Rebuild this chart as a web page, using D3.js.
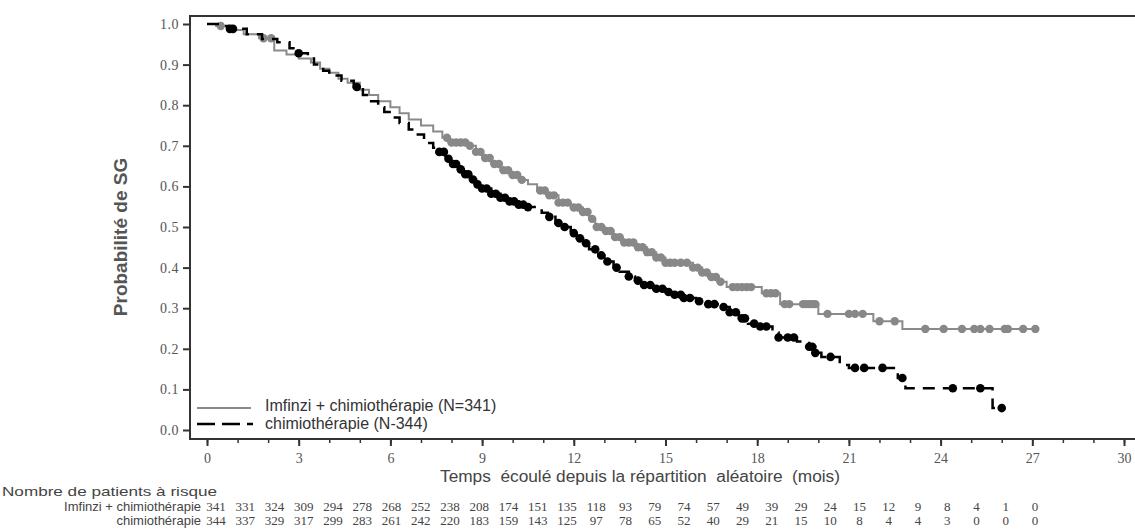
<!DOCTYPE html>
<html>
<head>
<meta charset="utf-8">
<script src="https://cdn.jsdelivr.net/npm/d3@7"></script>
<style>
  body { margin: 0; background: #fff; }
  svg { display: block; }
</style>
</head>
<body>
<div id="chart"></div>
<script>
// Imfinzi + chimiothérapie : KM steps (month, survival)
var imfTime = [0, 0.3, 0.7, 1.2, 1.7, 2.2, 2.6, 3.0, 3.4, 3.7, 4.0, 4.3, 4.6, 5.0, 5.3, 5.6, 6.0, 6.3, 6.6, 7.0,
               7.4, 7.7, 7.9, 8.5, 8.8, 9.0, 9.3, 9.6, 9.9, 10.2, 10.5, 10.8, 11.1, 11.5, 11.9, 12.3, 12.5, 12.7,
               13.0, 13.3, 13.6, 14.0, 14.4, 14.7, 15.0, 15.9, 16.2, 16.4, 16.7, 17.0, 18.15, 18.75, 20.0, 21.8, 22.75];
var imfSurv = [1.0, 0.995, 0.985, 0.975, 0.965, 0.935, 0.925, 0.915, 0.905, 0.89, 0.88, 0.865, 0.855, 0.838, 0.825, 0.81, 0.795, 0.78, 0.765, 0.75,
               0.735, 0.72, 0.708, 0.70, 0.685, 0.67, 0.655, 0.64, 0.628, 0.616, 0.605, 0.59, 0.578, 0.56, 0.548, 0.537, 0.52, 0.50,
               0.49, 0.475, 0.462, 0.45, 0.438, 0.425, 0.412, 0.40, 0.388, 0.377, 0.365, 0.352, 0.337, 0.31, 0.286, 0.268, 0.249];
var imfEnd = 27.2;
var imfCensor = [0.45, 1.85, 2.1, 7.85, 8.0, 8.15, 8.3, 8.45, 8.6, 8.8, 8.95, 9.1, 9.25, 9.4, 9.55, 9.7, 9.85, 10.0, 10.15, 10.3,
                 10.9, 11.05, 11.2, 11.35, 11.5, 11.65, 11.8, 12.0, 12.15, 12.3, 12.45, 12.6, 12.75, 12.9, 13.05, 13.2, 13.35,
                 13.5, 13.65, 13.8, 13.95, 14.1, 14.25, 14.4, 14.55, 14.7, 14.85, 15.0, 15.15, 15.3, 15.5, 15.7, 15.9, 16.05,
                 16.2, 16.35, 16.5, 16.65, 16.8, 17.2, 17.35, 17.5, 17.65, 17.8, 18.3, 18.45, 18.6, 18.9, 19.05, 19.5, 19.6,
                 19.7, 19.8, 19.9, 20.3, 21.0, 21.2, 21.45, 22.0, 22.5, 23.5, 24.1, 24.7, 25.1, 25.3, 25.6, 26.1, 26.2, 26.7, 27.1];

// chimiothérapie : KM steps (month, survival)
var chemoTime = [0, 0.4, 0.7, 1.3, 1.8, 2.3, 2.7, 3.0, 3.3, 3.5, 3.8, 4.0, 4.4, 4.8, 5.1, 5.3, 5.6, 5.8, 6.1, 6.3, 6.6, 6.8,
                 7.1, 7.4, 7.6, 7.8, 8.0, 8.2, 8.4, 8.6, 8.8, 9.0, 9.3, 9.6, 9.9, 10.2, 10.5, 10.95, 11.15, 11.4, 11.6, 11.9,
                 12.1, 12.3, 12.5, 12.8, 13.0, 13.3, 13.5, 13.8, 14.0, 14.3, 14.6, 15.0, 15.3, 15.6, 16.0, 16.4, 16.8, 17.1,
                 17.4, 17.7, 18.0, 18.5, 18.7, 19.3, 19.7, 19.9, 20.1, 20.7, 21.0, 22.6, 22.85, 25.7];
var chemoSurv = [1.0, 0.995, 0.988, 0.975, 0.963, 0.955, 0.94, 0.928, 0.915, 0.90, 0.885, 0.873, 0.86, 0.845, 0.825, 0.81, 0.795, 0.783, 0.77, 0.756, 0.74, 0.728,
                 0.707, 0.695, 0.685, 0.668, 0.655, 0.642, 0.63, 0.617, 0.605, 0.595, 0.582, 0.572, 0.563, 0.555, 0.549, 0.535, 0.525, 0.51, 0.50, 0.485,
                 0.472, 0.46, 0.445, 0.43, 0.415, 0.40, 0.39, 0.378, 0.368, 0.357, 0.348, 0.34, 0.333, 0.325, 0.317, 0.31, 0.303, 0.29,
                 0.275, 0.262, 0.255, 0.24, 0.228, 0.218, 0.205, 0.19, 0.18, 0.16, 0.153, 0.128, 0.103, 0.054];
var chemoEnd = 26.0;
var chemoCensor = [0.75, 0.85, 3.0, 4.9, 7.6, 7.75, 7.9, 8.05, 8.15, 8.3, 8.45, 8.55, 8.7, 8.85, 9.0, 9.15, 9.3, 9.45, 9.6, 9.75,
                   9.9, 10.05, 10.2, 10.35, 10.5, 11.2, 11.5, 11.7, 12.0, 12.2, 12.4, 12.7, 12.9, 13.1, 13.4, 13.8, 14.1, 14.3,
                   14.5, 14.7, 14.9, 15.1, 15.3, 15.5, 15.6, 15.8, 16.1, 16.4, 16.6, 16.9, 17.1, 17.3, 17.5, 17.6, 17.9, 18.1,
                   18.3, 18.7, 19.0, 19.2, 19.7, 19.8, 19.9, 20.4, 21.2, 21.5, 22.1, 22.75, 24.4, 25.3, 26.0];

// Nombre de patients à risque
var riskMonths = [0, 1, 2, 3, 4, 5, 6, 7, 8, 9, 10, 11, 12, 13, 14, 15, 16, 17, 18, 19, 20, 21, 22, 23, 24, 25, 26, 27, 28];
var riskImf = [341, 331, 324, 309, 294, 278, 268, 252, 238, 208, 174, 151, 135, 118, 93, 79, 74, 57, 49, 39, 29, 24, 15, 12, 9, 8, 4, 1, 0];
var riskChemo = [344, 337, 329, 317, 299, 283, 261, 242, 220, 183, 159, 143, 125, 97, 78, 65, 52, 40, 29, 21, 15, 10, 8, 4, 4, 3, 0, 0, 0];

var yTicks = [0, 0.1, 0.2, 0.3, 0.4, 0.5, 0.6, 0.7, 0.8, 0.9, 1.0];
var xMajor = [0, 3, 6, 9, 12, 15, 18, 21, 24, 27, 30];

var width = 1135, height = 529;
var serif = "'Liberation Serif', 'Times New Roman', serif",
    sans = "'Liberation Sans', Arial, sans-serif";

var svg = d3.select("#chart").append("svg")
    .attr("width", width).attr("height", height);

var x = d3.scaleLinear().domain([0, 30]).range([207, 1124]),
    y = d3.scaleLinear().domain([0, 1]).range([430, 24]),
    riskX = d3.scaleLinear().domain([0, 28]).range([216, 1035]);

// frame: left, top and bottom lines
var frame = svg.append("g").attr("stroke", "#333").attr("stroke-width", 2);
frame.append("line").attr("x1", 190).attr("x2", 190).attr("y1", 15).attr("y2", 440);
frame.append("line").attr("x1", 189).attr("x2", width).attr("y1", 16).attr("y2", 16);
frame.append("line").attr("x1", 189).attr("x2", width).attr("y1", 439).attr("y2", 439);

// y axis
var yAxis = svg.append("g")
    .attr("transform", "translate(190,0)")
    .call(d3.axisLeft(y).tickValues(yTicks).tickFormat(d3.format(".1f")).tickSize(7).tickPadding(4));
yAxis.select(".domain").remove();
yAxis.selectAll("line").attr("stroke", "#333").attr("stroke-width", 2);
yAxis.selectAll("text").attr("fill", "#555").style("font-family", serif).style("font-size", "14px")
    .style("letter-spacing", "0.5px");

// x axis : minor ticks each month, major every 3
var xMinor = svg.append("g")
    .attr("transform", "translate(0,439)")
    .call(d3.axisBottom(x).ticks(30).tickSize(4).tickFormat(""));
xMinor.select(".domain").remove();
xMinor.selectAll("line").attr("stroke", "#333").attr("stroke-width", 1.5);

var xAxis = svg.append("g")
    .attr("transform", "translate(0,439)")
    .call(d3.axisBottom(x).tickValues(xMajor).tickSize(7).tickPadding(7));
xAxis.select(".domain").remove();
xAxis.selectAll("line").attr("stroke", "#333").attr("stroke-width", 2);
xAxis.selectAll("text").attr("fill", "#555").style("font-family", serif).style("font-size", "14px");

// axis titles
svg.append("text")
    .attr("transform", "translate(127,237) rotate(-90)")
    .attr("text-anchor", "middle")
    .attr("fill", "#555")
    .style("font-family", sans).style("font-size", "19px").style("font-weight", "bold")
    .text("Probabilité de SG");

svg.append("text")
    .attr("x", 440).attr("y", 482)
    .attr("fill", "#444")
    .attr("textLength", 400).attr("lengthAdjust", "spacingAndGlyphs")
    .style("font-family", sans).style("font-size", "16px")
    .style("white-space", "pre")
    .text("Temps  écoulé depuis la répartition  aléatoire  (mois)");

// curves
function stepPoints(times, survs, end) {
    var pts = times.map(function (t, i) { return [t, survs[i]]; });
    pts.push([end, survs[survs.length - 1]]);
    return pts;
}
function survAt(times, survs, t) {
    return survs[Math.max(0, d3.bisectRight(times, t) - 1)];
}

var line = d3.line()
    .x(function (d) { return x(d[0]); })
    .y(function (d) { return y(d[1]); })
    .curve(d3.curveStepAfter);

var plot = svg.append("g");

plot.append("path")
    .datum(stepPoints(imfTime, imfSurv, imfEnd))
    .attr("fill", "none")
    .attr("stroke", "#8a8a8a")
    .attr("stroke-width", 2)
    .attr("d", line);

plot.selectAll(".imf-censor")
    .data(imfCensor)
    .enter().append("circle")
    .attr("class", "imf-censor")
    .attr("cx", function (d) { return x(d); })
    .attr("cy", function (d) { return y(survAt(imfTime, imfSurv, d)); })
    .attr("r", 4.2)
    .attr("fill", "#888");

plot.append("path")
    .datum(stepPoints(chemoTime, chemoSurv, chemoEnd))
    .attr("fill", "none")
    .attr("stroke", "#000")
    .attr("stroke-width", 2.5)
    .attr("stroke-dasharray", "12,8")
    .attr("d", line);

plot.selectAll(".chemo-censor")
    .data(chemoCensor)
    .enter().append("circle")
    .attr("class", "chemo-censor")
    .attr("cx", function (d) { return x(d); })
    .attr("cy", function (d) { return y(survAt(chemoTime, chemoSurv, d)); })
    .attr("r", 4.3)
    .attr("fill", "#000");

// legend
var legend = svg.append("g");
legend.append("line").attr("x1", 197).attr("x2", 251).attr("y1", 408).attr("y2", 408)
    .attr("stroke", "#8a8a8a").attr("stroke-width", 2);
legend.append("line").attr("x1", 197).attr("x2", 253).attr("y1", 424).attr("y2", 424)
    .attr("stroke", "#000").attr("stroke-width", 2.5).attr("stroke-dasharray", "18,7");
legend.append("text").attr("x", 265).attr("y", 411)
    .attr("fill", "#333").style("font-family", sans).style("font-size", "16px")
    .text("Imfinzi + chimiothérapie (N=341)");
legend.append("text").attr("x", 265).attr("y", 429)
    .attr("fill", "#333").style("font-family", sans).style("font-size", "16px")
    .text("chimiothérapie (N-344)");

// risk table
var risk = svg.append("g");
risk.append("text").attr("x", 2).attr("y", 496)
    .attr("fill", "#444").attr("textLength", 215).attr("lengthAdjust", "spacingAndGlyphs")
    .style("font-family", sans).style("font-size", "13px")
    .text("Nombre de patients à risque");
risk.append("text").attr("x", 201).attr("y", 511).attr("text-anchor", "end")
    .attr("fill", "#444").style("font-family", sans).style("font-size", "13px")
    .text("Imfinzi + chimiothérapie");
risk.append("text").attr("x", 201).attr("y", 525).attr("text-anchor", "end")
    .attr("fill", "#444").style("font-family", sans).style("font-size", "13px")
    .text("chimiothérapie");

risk.selectAll(".risk-imf")
    .data(riskImf)
    .enter().append("text")
    .attr("class", "risk-imf")
    .attr("x", function (d, i) { return riskX(riskMonths[i]); })
    .attr("y", 511)
    .attr("text-anchor", "middle")
    .attr("fill", "#444")
    .style("font-family", serif).style("font-size", "13px")
    .text(function (d) { return d; });

risk.selectAll(".risk-chemo")
    .data(riskChemo)
    .enter().append("text")
    .attr("class", "risk-chemo")
    .attr("x", function (d, i) { return riskX(riskMonths[i]); })
    .attr("y", 525)
    .attr("text-anchor", "middle")
    .attr("fill", "#444")
    .style("font-family", serif).style("font-size", "13px")
    .text(function (d) { return d; });
</script>
</body>
</html>
